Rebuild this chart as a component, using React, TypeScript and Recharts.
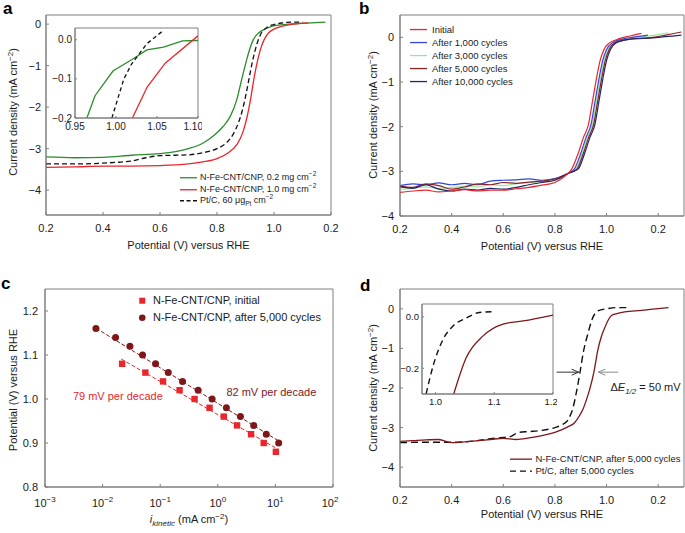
import React from "react";
import {
  LineChart,
  ComposedChart,
  Line,
  Scatter,
  XAxis,
  YAxis,
  ReferenceArea,
  ReferenceLine,
  ReferenceDot,
  Legend,
} from "recharts";

const FONT = "'Liberation Sans', Arial, Helvetica, sans-serif";
const INK = "#1a1a1a";
const FRAME = "#7f7f7f";

// ---------- panel a: polarisation curves ----------
const aGreenV = [0.2, 0.3, 0.4, 0.5, 0.6, 0.65, 0.7, 0.75, 0.79, 0.82, 0.846, 0.869, 0.886, 0.904, 0.915, 0.927, 0.945, 0.962, 0.985, 1.01, 1.05, 1.1, 1.18];
const aGreenJ = [-3.2, -3.22, -3.21, -3.16, -3.12, -3.08, -3.0, -2.87, -2.68, -2.48, -2.23, -1.83, -1.35, -0.86, -0.6, -0.38, -0.22, -0.14, -0.07, -0.03, 0.0, 0.02, 0.05];
const aRedV = [0.2, 0.3, 0.4, 0.5, 0.6, 0.7, 0.75, 0.8, 0.84, 0.87, 0.89, 0.905, 0.918, 0.93, 0.94, 0.952, 0.965, 0.98, 1.0, 1.03, 1.07, 1.12];
const aRedJ = [-3.45, -3.44, -3.42, -3.42, -3.41, -3.37, -3.32, -3.24, -3.1, -2.9, -2.62, -2.25, -1.8, -1.3, -0.95, -0.62, -0.38, -0.22, -0.12, -0.05, 0.0, 0.03];
const aPtV = [0.2, 0.3, 0.4, 0.45, 0.5, 0.55, 0.6, 0.7, 0.75, 0.8, 0.83, 0.857, 0.875, 0.89, 0.903, 0.915, 0.927, 0.94, 0.955, 0.975, 1.0, 1.03, 1.06, 1.1];
const aPtJ = [-3.37, -3.37, -3.35, -3.33, -3.3, -3.22, -3.17, -3.15, -3.1, -3.0, -2.88, -2.65, -2.38, -2.05, -1.65, -1.22, -0.82, -0.48, -0.22, -0.08, -0.01, 0.03, 0.05, 0.05];

// inset of panel a
const aInGreenV = [0.9645, 0.9744, 0.9963, 1.02, 1.0377, 1.058, 1.081, 1.1];
const aInGreenJ = [-0.2, -0.143, -0.08, -0.05, -0.026, -0.019, -0.003, -0.002];
const aInPtV = [0.995, 1.0096, 1.019, 1.0377, 1.058];
const aInPtJ = [-0.2, -0.1, -0.062, -0.01, 0.024];
const aInRedV = [1.02, 1.038, 1.06, 1.1];
const aInRedJ = [-0.2, -0.121, -0.06, 0.01];

// ---------- panel b: durability ----------
const bLowV = [0.2, 0.25, 0.3, 0.35, 0.4, 0.45, 0.5, 0.55, 0.6, 0.65, 0.7, 0.75, 0.8];
const bInitLowJ = [-3.47, -3.44, -3.42, -3.46, -3.44, -3.41, -3.44, -3.42, -3.42, -3.39, -3.36, -3.31, -3.25];
const b1kLowJ = [-3.32, -3.28, -3.3, -3.26, -3.3, -3.27, -3.3, -3.22, -3.2, -3.19, -3.17, -3.2, -3.16];
const b3kLowJ = [-3.4, -3.38, -3.35, -3.38, -3.36, -3.33, -3.35, -3.3, -3.32, -3.28, -3.25, -3.23, -3.2];
const b5kLowJ = [-3.33, -3.36, -3.28, -3.32, -3.4, -3.35, -3.28, -3.3, -3.25, -3.27, -3.24, -3.22, -3.17];
const b10kLowJ = [-3.35, -3.38, -3.3, -3.4, -3.44, -3.4, -3.42, -3.38, -3.4, -3.36, -3.3, -3.25, -3.2];

const bInitHighV = [0.84, 0.865, 0.89, 0.91, 0.93, 0.945, 0.96, 0.975, 0.99, 1.01, 1.05, 1.09, 1.135];
const bInitHighJ = [-3.1, -2.95, -2.6, -2.25, -1.95, -1.45, -0.95, -0.52, -0.27, -0.13, -0.03, 0.03, 0.09];
const b1kHighV = [0.85, 0.875, 0.9, 0.92, 0.94, 0.955, 0.97, 0.985, 1.0, 1.02, 1.06, 1.1, 1.16];
const b1kHighJ = [-3.05, -2.95, -2.6, -2.25, -1.95, -1.45, -0.95, -0.52, -0.27, -0.13, -0.04, 0.0, 0.05];
const b3kHighV = [0.85, 0.88, 0.905, 0.925, 0.945, 0.96, 0.975, 0.99, 1.005, 1.025, 1.07, 1.15, 1.24];
const b3kHighJ = [-3.05, -2.95, -2.6, -2.25, -1.95, -1.45, -0.95, -0.52, -0.27, -0.13, -0.04, 0.02, 0.1];
const b5kHighV = [0.85, 0.885, 0.91, 0.93, 0.95, 0.965, 0.98, 0.995, 1.01, 1.03, 1.08, 1.18, 1.29];
const b5kHighJ = [-3.05, -2.95, -2.6, -2.25, -1.95, -1.45, -0.95, -0.52, -0.27, -0.13, -0.05, 0.0, 0.12];
const b10kHighV = [0.85, 0.89, 0.915, 0.935, 0.955, 0.97, 0.985, 1.0, 1.015, 1.035, 1.08, 1.18, 1.29];
const b10kHighJ = [-3.05, -2.95, -2.6, -2.25, -1.95, -1.45, -0.95, -0.52, -0.27, -0.13, -0.05, -0.01, 0.05];

// ---------- panel c: Tafel plots ----------
const cInitI = [0.0218, 0.0553, 0.112, 0.217, 0.395, 0.719, 1.27, 2.16, 3.78, 6.27, 10.2];
const cInitE = [1.08, 1.06, 1.04, 1.02, 1.0, 0.98, 0.96, 0.94, 0.92, 0.9, 0.88];
const cAfterI = [0.00766, 0.0168, 0.0298, 0.0494, 0.083, 0.138, 0.244, 0.456, 0.797, 1.41, 2.47, 4.2, 6.95, 11.4];
const cAfterE = [1.16, 1.14, 1.12, 1.1, 1.08, 1.06, 1.04, 1.02, 1.0, 0.98, 0.96, 0.94, 0.92, 0.9];
const cInitFitI = [0.021, 11];
const cInitFitE = [1.091, 0.886];
const cAfterFitI = [0.0077, 13];
const cAfterFitE = [1.161, 0.9];
const cDecades = [0.001, 0.01, 0.1, 1, 10, 100];

// ---------- panel d: after 5,000 cycles ----------
const dRedV = [0.2, 0.25, 0.3, 0.35, 0.4, 0.45, 0.5, 0.55, 0.6, 0.65, 0.7, 0.75, 0.8, 0.85, 0.877, 0.895, 0.909, 0.922, 0.935, 0.951, 0.967, 0.98, 0.993, 1.005, 1.019, 1.04, 1.07, 1.135, 1.19, 1.24];
const dRedJ = [-3.35, -3.33, -3.31, -3.3, -3.38, -3.36, -3.33, -3.3, -3.27, -3.3, -3.26, -3.2, -3.12, -2.98, -2.87, -2.7, -2.53, -2.3, -2.03, -1.6, -1.02, -0.7, -0.48, -0.3, -0.17, -0.12, -0.08, -0.04, 0.0, 0.03];
const dPtV = [0.2, 0.3, 0.4, 0.5, 0.55, 0.6, 0.63, 0.66, 0.7, 0.75, 0.8, 0.83, 0.853, 0.87, 0.885, 0.897, 0.91, 0.929, 0.945, 0.967, 1.0, 1.04, 1.08];
const dPtJ = [-3.38, -3.37, -3.37, -3.33, -3.28, -3.25, -3.22, -3.12, -3.1, -3.07, -3.0, -2.92, -2.78, -2.5, -2.05, -1.61, -1.1, -0.6, -0.25, -0.05, 0.0, 0.03, 0.03];
const dInRedV = [1.031, 1.052, 1.081, 1.115, 1.149, 1.2];
const dInRedJ = [-0.3, -0.16, -0.074, -0.028, -0.016, 0.007];
const dInPtV = [0.984, 0.996, 1.013, 1.03, 1.052, 1.075, 1.1];
const dInPtJ = [-0.3, -0.19, -0.087, -0.035, -0.005, 0.017, 0.02];

const pts = (xs: number[], ys: number[]) => xs.map((x, i) => ({ x, y: ys[i] }));
const signed = (v: number, d: number) => (v < -1e-9 ? `\u2212${Math.abs(v).toFixed(d)}` : Math.abs(v).toFixed(d));
const fmtV = (v: number) => (v > 1.15 ? "0.2" : v.toFixed(1));
const fmtJ = (v: number) => signed(v, 0);

const tickStyle = { fontSize: 11, fill: INK, fontFamily: FONT };
const smallTick = { fontSize: 10, fill: INK, fontFamily: FONT };

const xTitle = (dy: number, node: React.ReactNode) => ({
  content: (p: any) => (
    <text x={p.viewBox.x + p.viewBox.width / 2} y={p.viewBox.y + dy} textAnchor="middle" fontSize={11} fill={INK} fontFamily={FONT}>
      {node}
    </text>
  ),
});
const yTitle = (cx: number, cy: number, node: React.ReactNode) => ({
  content: () => (
    <text transform={`translate(${cx},${cy}) rotate(-90)`} dy="0.35em" textAnchor="middle" fontSize={11} fill={INK} fontFamily={FONT}>
      {node}
    </text>
  ),
});

const currentTitle = (
  <>
    <tspan>Current density (mA cm</tspan>
    <tspan dy={-4} fontSize={8}>−2</tspan>
    <tspan dy={4}>)</tspan>
  </>
);
const rheTitle = "Potential (V) versus RHE";

const Sup = ({ children }: { children: React.ReactNode }) => (
  <span style={{ fontSize: "0.72em", verticalAlign: "super", lineHeight: 0 }}>{children}</span>
);
const Sub = ({ children }: { children: React.ReactNode }) => (
  <span style={{ fontSize: "0.72em", verticalAlign: "sub", lineHeight: 0 }}>{children}</span>
);

type Item = { label: React.ReactNode; color: string; dash?: string; marker?: "square" | "circle" };
function LegendBox({ items, rowH, sampleW, gap, fontSize }: { items: Item[]; rowH: number; sampleW: number; gap: number; fontSize: number }) {
  return (
    <div style={{ fontFamily: FONT, fontSize, color: INK }}>
      {items.map((it, i) => (
        <div key={i} style={{ display: "flex", alignItems: "center", height: rowH, whiteSpace: "nowrap" }}>
          <svg width={sampleW} height={rowH} style={{ flex: "none", display: "block" }}>
            {it.marker === "square" ? (
              <rect x={sampleW / 2 - 3} y={rowH / 2 - 3} width={6} height={6} fill={it.color} />
            ) : it.marker === "circle" ? (
              <circle cx={sampleW / 2} cy={rowH / 2} r={3.3} fill={it.color} />
            ) : (
              <line x1={0} x2={sampleW} y1={rowH / 2} y2={rowH / 2} stroke={it.color} strokeWidth={1.3} strokeDasharray={it.dash} />
            )}
          </svg>
          <span style={{ marginLeft: gap, lineHeight: `${rowH}px` }}>{it.label}</span>
        </div>
      ))}
    </div>
  );
}

const Arrow = (props: any) => {
  const { x1, y1, x2, y2, color } = props;
  const s = Math.sign(x2 - x1);
  return (
    <g>
      <line x1={x1} y1={y1} x2={x2} y2={y2} stroke={color} strokeWidth={1} />
      <path d={`M${x2 - s * 7},${y2 - 3} L${x2},${y2} L${x2 - s * 7},${y2 + 3}`} fill="none" stroke={color} strokeWidth={1} />
    </g>
  );
};

const PowTick = (props: any) => {
  const { x, y, payload } = props;
  const e = Math.round(Math.log10(payload.value));
  return (
    <text x={x} y={y + 18} textAnchor="middle" fontSize={11} fill={INK} fontFamily={FONT}>
      <tspan>10</tspan>
      <tspan dy={-5} fontSize={8}>{e < 0 ? `−${-e}` : `${e}`}</tspan>
    </text>
  );
};

const RED = "#e8262b";
const GREEN = "#2a8c2a";
const DARKRED = "#7d1719";

function PanelA() {
  return (
    <LineChart width={342} height={266} margin={{ top: 15, right: 11, bottom: 21, left: 0 }}>
      <XAxis type="number" dataKey="x" domain={[0.2, 1.2]} ticks={[0.2, 0.4, 0.6, 0.8, 1.0, 1.2]} allowDataOverflow tickFormatter={fmtV} height={30} tickSize={-3} tickMargin={12} tick={tickStyle} axisLine={{ stroke: FRAME }} tickLine={{ stroke: FRAME }} label={xTitle(34, rheTitle)} />
      <YAxis type="number" dataKey="y" domain={[-4.6, 0.22]} ticks={[-4, -3, -2, -1, 0]} allowDataOverflow tickFormatter={fmtJ} width={46} tickSize={-3} tickMargin={8} tick={tickStyle} axisLine={{ stroke: FRAME }} tickLine={{ stroke: FRAME }} label={yTitle(13, 112, currentTitle)} />
      <ReferenceArea x1={0.2} x2={1.2} y1={-4.6} y2={0.22} fill="none" stroke={FRAME} />
      <Line data={pts(aGreenV, aGreenJ)} dataKey="y" type="monotone" stroke={GREEN} strokeWidth={1.3} dot={false} isAnimationActive={false} />
      <Line data={pts(aRedV, aRedJ)} dataKey="y" type="monotone" stroke={RED} strokeWidth={1.3} dot={false} isAnimationActive={false} />
      <Line data={pts(aPtV, aPtJ)} dataKey="y" type="monotone" stroke="#111" strokeWidth={1.3} strokeDasharray="5 3" dot={false} isAnimationActive={false} />
      <Legend
        layout="vertical"
        align="center"
        verticalAlign="middle"
        wrapperStyle={{ left: 180, top: 172, width: "auto" }}
        content={() => (
          <LegendBox
            rowH={11.5}
            sampleW={17}
            gap={3}
            fontSize={9}
            items={[
              { color: GREEN, label: <>N-Fe-CNT/CNP, 0.2 mg cm<Sup>−2</Sup></> },
              { color: RED, label: <>N-Fe-CNT/CNP, 1.0 mg cm<Sup>−2</Sup></> },
              { color: "#111", dash: "4 2.5", label: <>Pt/C, 60 μg<Sub>Pt</Sub> cm<Sup>−2</Sup></> },
            ]}
          />
        )}
      />
    </LineChart>
  );
}

function InsetA() {
  return (
    <LineChart width={157} height={112} margin={{ top: 4, right: 4, bottom: 0, left: 0 }}>
      <XAxis type="number" dataKey="x" domain={[0.95, 1.1]} ticks={[0.95, 1.0, 1.05, 1.1]} allowDataOverflow tickFormatter={(v: number) => v.toFixed(2)} height={18} tickSize={-2} tickMargin={7} tick={smallTick} axisLine={{ stroke: FRAME }} tickLine={{ stroke: FRAME }} />
      <YAxis type="number" dataKey="y" domain={[-0.2, 0.03]} ticks={[-0.2, -0.1, 0]} allowDataOverflow tickFormatter={(v: number) => signed(v, 1)} width={30} tickSize={-2} tickMargin={5} tick={smallTick} axisLine={{ stroke: FRAME }} tickLine={{ stroke: FRAME }} />
      <ReferenceArea x1={0.95} x2={1.1} y1={-0.2} y2={0.03} fill="#fff" fillOpacity={1} stroke={FRAME} />
      <Line data={pts(aInGreenV, aInGreenJ)} dataKey="y" type="linear" stroke={GREEN} strokeWidth={1.3} dot={false} isAnimationActive={false} />
      <Line data={pts(aInRedV, aInRedJ)} dataKey="y" type="linear" stroke={RED} strokeWidth={1.3} dot={false} isAnimationActive={false} />
      <Line data={pts(aInPtV, aInPtJ)} dataKey="y" type="linear" stroke="#111" strokeWidth={1.3} strokeDasharray="4 3" dot={false} isAnimationActive={false} />
    </LineChart>
  );
}

const bSeries = [
  { name: "Initial", color: "#e8262b", low: bInitLowJ, hv: bInitHighV, hj: bInitHighJ },
  { name: "After 1,000 cycles", color: "#3246e0", low: b1kLowJ, hv: b1kHighV, hj: b1kHighJ },
  { name: "After 3,000 cycles", color: "#9fe39f", low: b3kLowJ, hv: b3kHighV, hj: b3kHighJ },
  { name: "After 5,000 cycles", color: "#8a2424", low: b5kLowJ, hv: b5kHighV, hj: b5kHighJ },
  { name: "After 10,000 cycles", color: "#23236e", low: b10kLowJ, hv: b10kHighV, hj: b10kHighJ },
];

function PanelB() {
  return (
    <LineChart width={343} height={266} margin={{ top: 15, right: 1, bottom: 20, left: 0 }}>
      <XAxis type="number" dataKey="x" domain={[0.2, 1.3]} ticks={[0.2, 0.4, 0.6, 0.8, 1.0, 1.2]} allowDataOverflow tickFormatter={fmtV} height={30} tickSize={-3} tickMargin={12} tick={tickStyle} axisLine={{ stroke: FRAME }} tickLine={{ stroke: FRAME }} label={xTitle(34, rheTitle)} />
      <YAxis type="number" dataKey="y" domain={[-4, 0.5]} ticks={[-4, -3, -2, -1, 0]} allowDataOverflow tickFormatter={fmtJ} width={58} tickSize={-3} tickMargin={9} tick={tickStyle} axisLine={{ stroke: FRAME }} tickLine={{ stroke: FRAME }} label={yTitle(31, 115, currentTitle)} />
      <ReferenceArea x1={0.2} x2={1.3} y1={-4} y2={0.5} fill="none" stroke={FRAME} />
      {[2, 1, 3, 4, 0].map((k) => {
        const s = bSeries[k];
        return (
          <Line key={s.name} data={pts([...bLowV, ...s.hv], [...s.low, ...s.hj])} dataKey="y" type="monotone" stroke={s.color} strokeWidth={1.2} dot={false} isAnimationActive={false} />
        );
      })}
      <Legend
        layout="vertical"
        align="center"
        verticalAlign="middle"
        wrapperStyle={{ left: 68, top: 22.8, width: "auto" }}
        content={() => <LegendBox rowH={13.1} sampleW={17} gap={5} fontSize={9.5} items={bSeries.map((s) => ({ color: s.color, label: s.name }))} />}
      />
    </LineChart>
  );
}

function PanelC() {
  return (
    <ComposedChart width={342} height={267} margin={{ top: 23, right: 9, bottom: 16, left: 0 }}>
      <XAxis type="number" dataKey="x" scale="log" domain={[0.001, 100]} ticks={cDecades} allowDataOverflow height={30} tickSize={-3} tickMargin={5} tick={<PowTick />} axisLine={{ stroke: FRAME }} tickLine={{ stroke: FRAME }}
        label={xTitle(36, (
          <>
            <tspan fontStyle="italic">i</tspan>
            <tspan fontStyle="italic" fontSize={8} dy={3}>kinetic</tspan>
            <tspan dy={-3}> (mA cm</tspan>
            <tspan dy={-4} fontSize={8}>−2</tspan>
            <tspan dy={4}>)</tspan>
          </>
        ))}
      />
      <YAxis type="number" dataKey="y" domain={[0.8, 1.25]} ticks={[0.8, 0.9, 1.0, 1.1, 1.2]} allowDataOverflow tickFormatter={(v: number) => v.toFixed(1)} width={45} tickSize={-3} tickMargin={10} tick={tickStyle} axisLine={{ stroke: FRAME }} tickLine={{ stroke: FRAME }} label={yTitle(13, 124, rheTitle)} />
      <ReferenceArea x1={0.001} x2={100} y1={0.8} y2={1.25} fill="none" stroke={FRAME} />
      <Line data={pts(cInitFitI, cInitFitE)} dataKey="y" type="linear" stroke={RED} strokeWidth={1} strokeDasharray="4 2" dot={false} isAnimationActive={false} />
      <Line data={pts(cAfterFitI, cAfterFitE)} dataKey="y" type="linear" stroke={DARKRED} strokeWidth={1} strokeDasharray="4 2" dot={false} isAnimationActive={false} />
      <Scatter data={pts(cInitI, cInitE)} dataKey="y" fill={RED} isAnimationActive={false}
        shape={(p: any) => <rect x={p.cx - 3.2} y={p.cy - 3.2} width={6.4} height={6.4} fill={RED} />} />
      <Scatter data={pts(cAfterI, cAfterE)} dataKey="y" fill={DARKRED} isAnimationActive={false}
        shape={(p: any) => <circle cx={p.cx} cy={p.cy} r={3.5} fill={DARKRED} />} />
      <ReferenceDot x={0.0184} y={1.006} r={0} fill="none" stroke="none" label={{ value: "79 mV per decade", position: "center", fill: RED, fontSize: 11, fontFamily: FONT }} />
      <ReferenceDot x={8.5} y={1.015} r={0} fill="none" stroke="none" label={{ value: "82 mV per decade", position: "center", fill: DARKRED, fontSize: 11, fontFamily: FONT }} />
      <Legend
        layout="vertical"
        align="center"
        verticalAlign="middle"
        wrapperStyle={{ left: 137.5, top: 25.6, width: "auto" }}
        content={() => (
          <LegendBox
            rowH={17.4}
            sampleW={8.5}
            gap={7}
            fontSize={11}
            items={[
              { color: RED, marker: "square", label: "N-Fe-CNT/CNP, initial" },
              { color: DARKRED, marker: "circle", label: "N-Fe-CNT/CNP, after 5,000 cycles" },
            ]}
          />
        )}
      />
    </ComposedChart>
  );
}

function PanelD() {
  return (
    <LineChart width={343} height={267} margin={{ top: 23, right: 1, bottom: 16, left: 0 }}>
      <XAxis type="number" dataKey="x" domain={[0.2, 1.3]} ticks={[0.2, 0.4, 0.6, 0.8, 1.0, 1.2]} allowDataOverflow tickFormatter={fmtV} height={30} tickSize={-3} tickMargin={12} tick={tickStyle} axisLine={{ stroke: FRAME }} tickLine={{ stroke: FRAME }} label={xTitle(31, rheTitle)} />
      <YAxis type="number" dataKey="y" domain={[-4.5, 0.5]} ticks={[-4, -3, -2, -1, 0]} allowDataOverflow tickFormatter={fmtJ} width={58} tickSize={-3} tickMargin={9} tick={tickStyle} axisLine={{ stroke: FRAME }} tickLine={{ stroke: FRAME }} label={yTitle(31, 122, currentTitle)} />
      <ReferenceArea x1={0.2} x2={1.3} y1={-4.5} y2={0.5} fill="none" stroke={FRAME} />
      <Line data={pts(dPtV, dPtJ)} dataKey="y" type="monotone" stroke="#111" strokeWidth={1.4} strokeDasharray="7 4" dot={false} isAnimationActive={false} />
      <Line data={pts(dRedV, dRedJ)} dataKey="y" type="monotone" stroke={DARKRED} strokeWidth={1.3} dot={false} isAnimationActive={false} />
      <ReferenceLine segment={[{ x: 0.807, y: -1.6 }, { x: 0.892, y: -1.6 }]} shape={(p: any) => <Arrow {...p} color="#333" />} />
      <ReferenceLine segment={[{ x: 1.045, y: -1.6 }, { x: 0.968, y: -1.6 }]} shape={(p: any) => <Arrow {...p} color="#8a8a8a" />} />
      <ReferenceDot
        x={1.151}
        y={-1.99}
        r={0}
        fill="none"
        stroke="none"
        label={{
          content: (p: any) => (
            <text x={p.viewBox.x} y={p.viewBox.y} dy="0.35em" textAnchor="middle" fontSize={11} fill={INK} fontFamily={FONT}>
              <tspan>Δ</tspan>
              <tspan fontStyle="italic">E</tspan>
              <tspan fontStyle="italic" fontSize={8} dy={3}>1/2</tspan>
              <tspan dy={-3}> = 50 mV</tspan>
            </text>
          ),
        }}
      />
      <Legend
        layout="vertical"
        align="center"
        verticalAlign="middle"
        wrapperStyle={{ left: 168, top: 186.5, width: "auto" }}
        content={() => (
          <LegendBox
            rowH={12.3}
            sampleW={22}
            gap={3.5}
            fontSize={9.5}
            items={[
              { color: DARKRED, label: "N-Fe-CNT/CNP, after 5,000 cycles" },
              { color: "#111", dash: "6 4", label: "Pt/C, after 5,000 cycles" },
            ]}
          />
        )}
      />
    </LineChart>
  );
}

function InsetD() {
  return (
    <LineChart width={163} height={110} margin={{ top: 4, right: 4, bottom: 0, left: 0 }}>
      <XAxis type="number" dataKey="x" domain={[0.977, 1.2]} ticks={[1.0, 1.1, 1.2]} allowDataOverflow tickFormatter={(v: number) => v.toFixed(1)} height={16} tickSize={-2} tickMargin={6} tick={{ ...smallTick, fontSize: 9.5 }} axisLine={{ stroke: FRAME }} tickLine={{ stroke: FRAME }} />
      <YAxis type="number" dataKey="y" domain={[-0.3, 0.05]} ticks={[-0.2, 0]} allowDataOverflow tickFormatter={(v: number) => signed(v, 1)} width={28} tickSize={-2} tickMargin={5} tick={{ ...smallTick, fontSize: 9.5 }} axisLine={{ stroke: FRAME }} tickLine={{ stroke: FRAME }} />
      <ReferenceArea x1={0.977} x2={1.2} y1={-0.3} y2={0.05} fill="#fff" fillOpacity={1} stroke={FRAME} />
      <Line data={pts(dInPtV, dInPtJ)} dataKey="y" type="monotone" stroke="#111" strokeWidth={1.4} strokeDasharray="6 4" dot={false} isAnimationActive={false} />
      <Line data={pts(dInRedV, dInRedJ)} dataKey="y" type="monotone" stroke={DARKRED} strokeWidth={1.3} dot={false} isAnimationActive={false} />
    </LineChart>
  );
}

const letter = (ch: string, left: number, top: number) => (
  <div style={{ position: "absolute", left, top, fontFamily: FONT, fontWeight: "bold", fontSize: 17, lineHeight: "17px", color: "#000" }}>{ch}</div>
);

export default function App() {
  return (
    <div style={{ position: "absolute", left: 0, top: 0, width: 685, height: 533, background: "#fff", overflow: "hidden" }}>
      <div style={{ position: "absolute", left: 0, top: 0 }}><PanelA /></div>
      <div style={{ position: "absolute", left: 45, top: 24 }}><InsetA /></div>
      <div style={{ position: "absolute", left: 342, top: 0 }}><PanelB /></div>
      <div style={{ position: "absolute", left: 0, top: 266 }}><PanelC /></div>
      <div style={{ position: "absolute", left: 342, top: 266 }}><PanelD /></div>
      <div style={{ position: "absolute", left: 394, top: 300 }}><InsetD /></div>
      {letter("a", 3, 0)}
      {letter("b", 359, 0)}
      {letter("c", 1, 275)}
      {letter("d", 360, 277)}
    </div>
  );
}
